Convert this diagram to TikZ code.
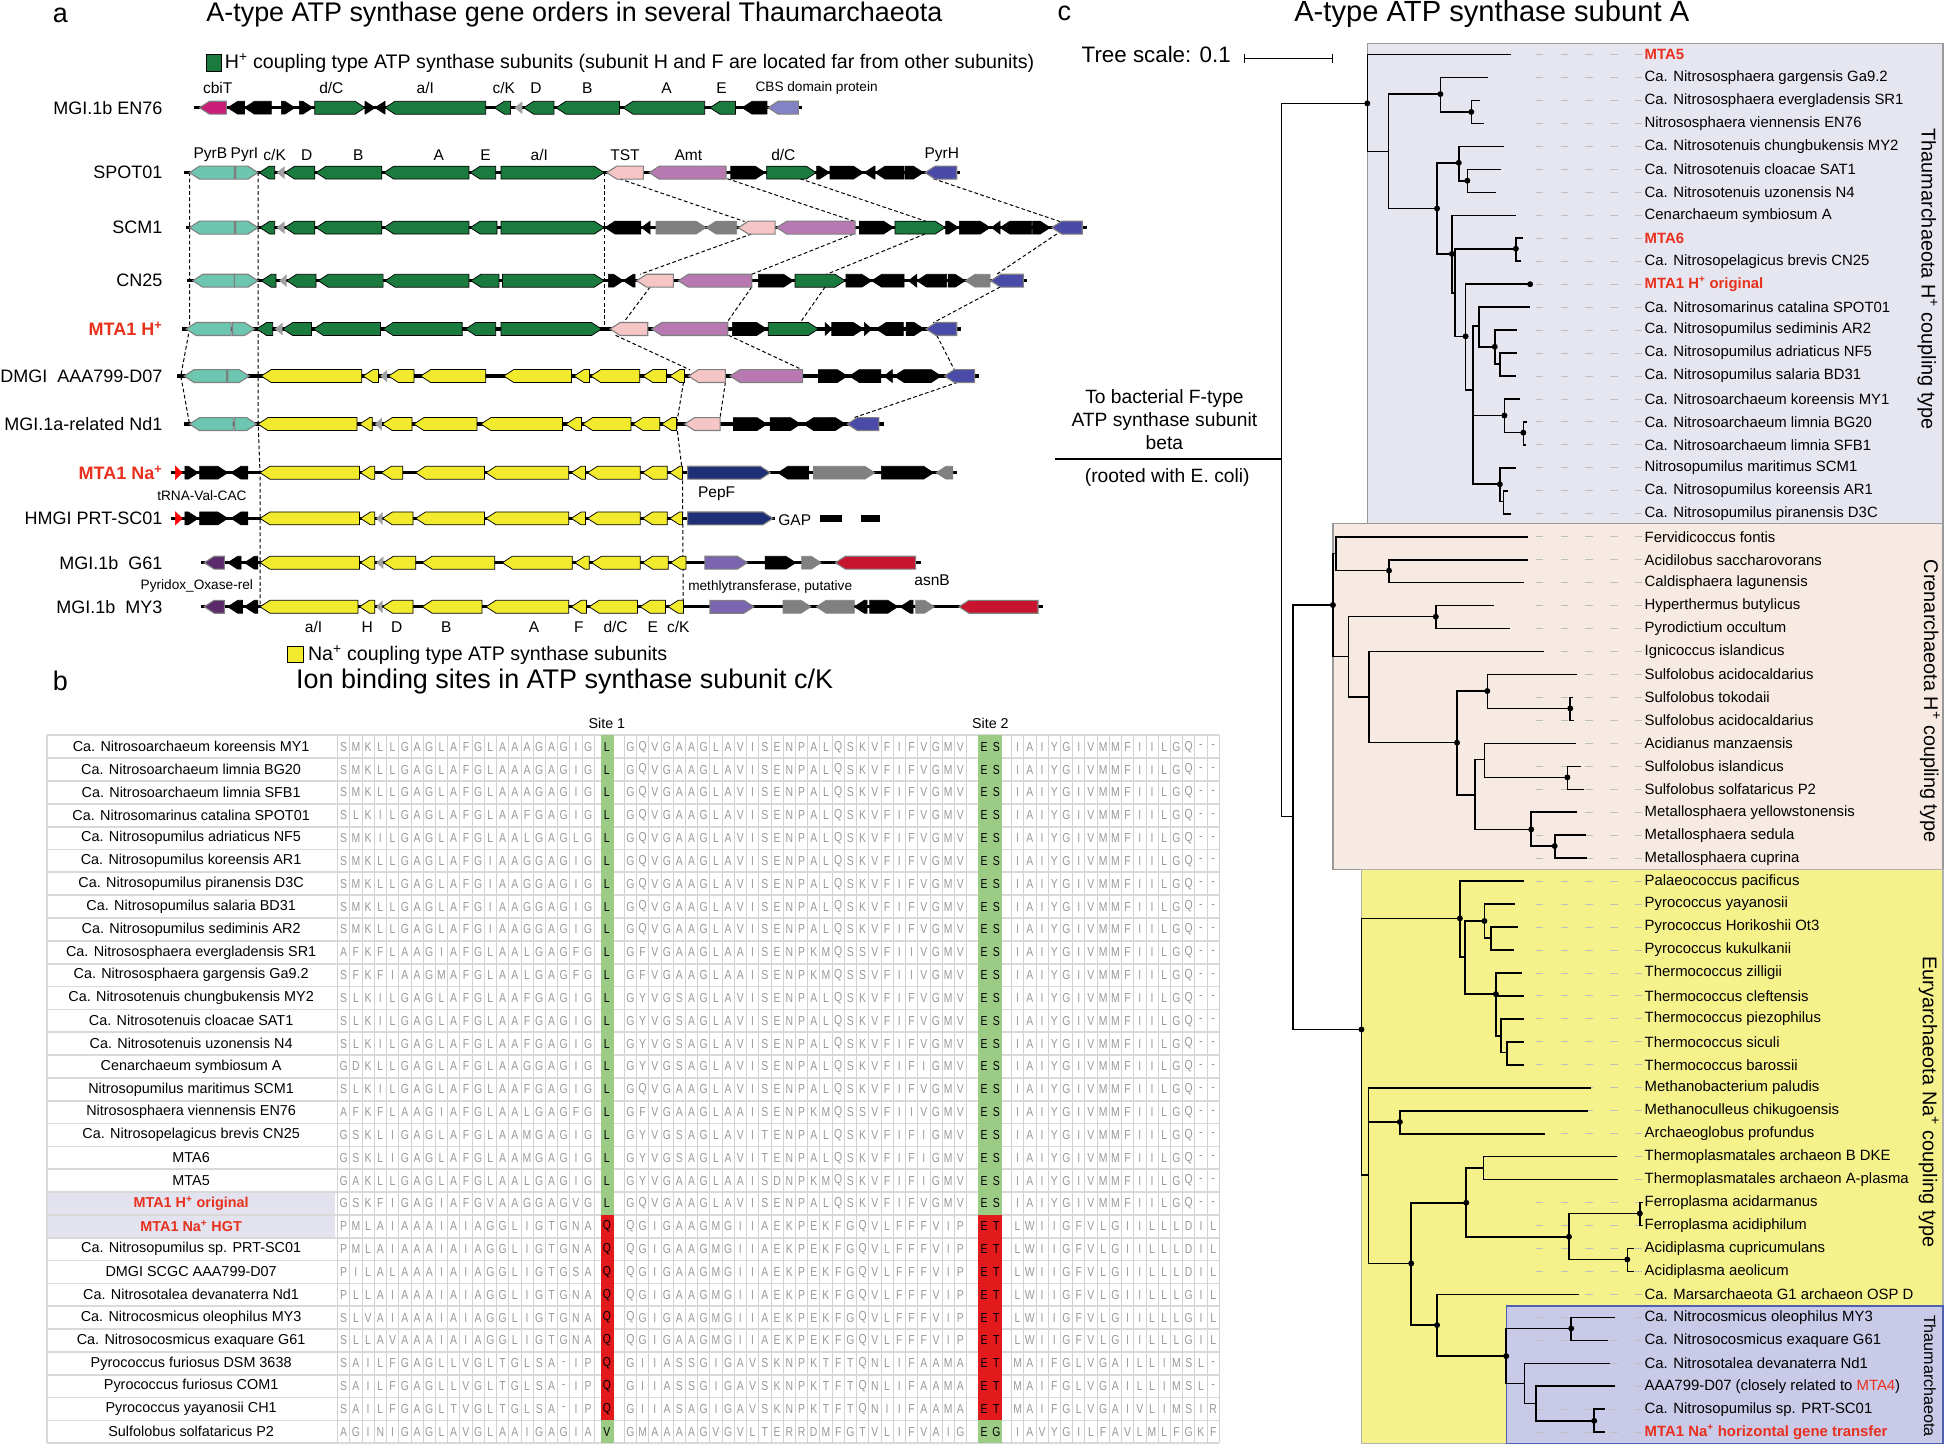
\documentclass[tikz,border=0pt]{standalone}
\usepackage{fontspec}
\setmainfont{Liberation Sans}
\newfontfamily\seqfont{Liberation Sans}[FakeStretch=0.8]
\definecolor{cGreen}{HTML}{1B7A3E}
\definecolor{cYellow}{HTML}{F2EA2C}
\definecolor{cCyan}{HTML}{6CC6B0}
\definecolor{cPink}{HTML}{F6C5C5}
\definecolor{cPurple}{HTML}{B879B3}
\definecolor{cBlue}{HTML}{4A4AA8}
\definecolor{cGray}{HTML}{808080}
\definecolor{cLGray}{HTML}{A0A0A0}
\definecolor{cMag}{HTML}{C81E78}
\definecolor{cLav}{HTML}{8282C4}
\definecolor{cNavy}{HTML}{1E2F78}
\definecolor{cDPur}{HTML}{5A2A6A}
\definecolor{cMeth}{HTML}{7B64B0}
\definecolor{cRed}{HTML}{C8142E}
\definecolor{cTxtRed}{HTML}{E8301C}
\definecolor{siteG}{HTML}{9CCB86}
\definecolor{siteR}{HTML}{E31A1C}
\definecolor{hlBg}{HTML}{E3E3EF}
\definecolor{boxT}{HTML}{E6E6F0}
\definecolor{boxC}{HTML}{F7EAE2}
\definecolor{boxE}{HTML}{F5F28C}
\definecolor{boxN}{HTML}{C9C9E8}
\definecolor{boxNb}{HTML}{5060B0}
\newcommand\fsz[1]{\fontsize{#1}{#1}\selectfont}
\newcommand\Hp{H\textsuperscript{+}}
\newcommand\Nap{Na\textsuperscript{+}}
% gene arrow: x1 x2 dir style ; uses \gy
\newcommand\gene[4]{%
 \pgfmathsetmacro\ghl{min(8,#2-#1)}%
 \if L#3\relax
  \path[#4] (#2,{\gy-5.2}) -- ({#1+\ghl},{\gy-5.2}) -- (#1,\gy) -- ({#1+\ghl},{\gy+5.2}) -- (#2,{\gy+5.2}) -- cycle;
 \else
  \path[#4] (#1,{\gy-5.2}) -- ({#2-\ghl},{\gy-5.2}) -- (#2,\gy) -- ({#2-\ghl},{\gy+5.2}) -- (#1,{\gy+5.2}) -- cycle;
 \fi}
% sequence parsers
\def\seqparse#1{\ifx\relax#1\else\node[seqch] at (\seqx,\seqy) {#1};\pgfmathsetmacro\seqx{\seqx+9.85}\expandafter\seqparse\fi}
\def\siteparse#1{\ifx\relax#1\else\node[sitech] at (\seqx,\seqy) {#1};\pgfmathsetmacro\seqx{\seqx+9.85}\expandafter\siteparse\fi}
\newcommand\seqrow[7]{%
 \pgfmathsetmacro\seqy{601.7+18.4*(#1-1)}%
 \node[namelab] at (154,\seqy) {#2};
 \def\seqx{276.925}\seqparse#3\relax
 \def\seqx{489}\siteparse#4\relax
 \def\seqx{507.925}\seqparse#5\relax
 \def\seqx{792.925}\siteparse#6\relax
 \def\seqx{819.925}\seqparse#7\relax}
\newcommand\tip[2]{%
 \pgfmathsetmacro\ty{44+18.5*#1}%
 \draw[lead] (1237.5,\ty) -- (1323,\ty);
 \node[tiplab] (t#1) at (1325,\ty) {#2};}
\begin{document}
\begin{tikzpicture}[x=1pt,y=-1pt,
 gG/.style={fill=cGreen,draw=black,line width=0.6pt},
 gY/.style={fill=cYellow,draw=black,line width=0.6pt},
 gK/.style={fill=black,draw=black,line width=0.5pt},
 gC/.style={fill=cCyan,draw=cGray,line width=0.9pt},
 gPk/.style={fill=cPink,draw=cGray,line width=0.9pt},
 gPu/.style={fill=cPurple,draw=cGray,line width=0.9pt},
 gBl/.style={fill=cBlue,draw=cGray,line width=0.9pt},
 gR/.style={fill=cGray,draw=cGray,line width=0.5pt},
 gS/.style={fill=cLGray},
 gMag/.style={fill=cMag,draw=cGray,line width=0.9pt},
 gLav/.style={fill=cLav,draw=cGray,line width=0.9pt},
 gNavy/.style={fill=cNavy,draw=cGray,line width=0.9pt},
 gDp/.style={fill=cDPur,draw=cGray,line width=0.9pt},
 gMt/.style={fill=cMeth,draw=cGray,line width=0.9pt},
 gRed/.style={fill=red,draw=red,line width=0.4pt},
 gRed2/.style={fill=cRed,draw=cGray,line width=0.9pt},
 bb/.style={line width=2.6pt,black},
 dcon/.style={densely dashed,line width=0.8pt,black},
 rowlab/.style={anchor=east,font=\fsz{14.5},inner sep=0pt},
 sublab/.style={font=\fsz{12.5},inner sep=0pt},
 smlab/.style={font=\fsz{11},inner sep=0pt},
 seqch/.style={font=\seqfont\fsz{10.5},text=black!40,inner sep=0pt},
 sitech/.style={font=\seqfont\fsz{10.5},text=black,inner sep=0pt},
 namelab/.style={font=\fsz{11.6},inner sep=0pt},
 gridv/.style={draw=black!18,line width=0.6pt},
 gridh/.style={draw=black!15,line width=1.4pt},
 tr/.style={line width=1.3pt,black,line cap=rect},
 lead/.style={draw=black!25,line width=0.8pt,dash pattern=on 6pt off 14pt},
 tiplab/.style={anchor=west,font=\fsz{12},inner sep=0pt},
 sidelab/.style={rotate=-90,font=\fsz{16},inner sep=0pt},
 ttl/.style={font=\fsz{21.7},inner sep=0pt}
]
\useasboundingbox (0,0) rectangle (1568,1166);
\fill[white] (0,0) rectangle (1568,1166);

%================ PANEL A =================
\node[ttl] (pa) at (48.6,12) {a};
\node[ttl] (ta) at (462.8,12) {A-type ATP synthase gene orders in several Thaumarchaeota};
\draw[fill=cGreen,draw=black,line width=0.8pt] (166.2,44.3) rectangle (178.1,57.7);
\node[anchor=west,font=\fsz{15.8},inner sep=0pt] (lega) at (181,51) {\Hp{} coupling type ATP synthase subunits (subunit H and F are located far from other subunits)};

% dashed connectors
\draw[dcon] (152.7,139) -- (152.7,265) -- (145.7,303) -- (152.7,341.7);
\draw[dcon] (208,139) -- (208,265) -- (208,303) -- (208,341.7) -- (209.5,380.9) -- (209.5,489);
\draw[dcon] (486.8,139) -- (486.8,265);
\draw[dcon] (551.6,303) -- (545.1,341.7) -- (549.9,380.9) -- (550.5,489);
\draw[dcon] (499,144) -- (600,178.5);
\draw[dcon] (586,144) -- (689,178.5);
\draw[dcon] (644.7,144) -- (746.7,178.5);
\draw[dcon] (752,144) -- (854,178.5);
\draw[dcon] (605.7,188.5) -- (515.7,221);
\draw[dcon] (687.6,188.5) -- (605.7,221);
\draw[dcon] (745.4,188.5) -- (666.1,221);
\draw[dcon] (851.5,188.5) -- (803.1,221);
\draw[dcon] (523.8,231.3) -- (502.3,260);
\draw[dcon] (605.7,231.3) -- (585.6,260);
\draw[dcon] (664.8,231.3) -- (644.7,260);
\draw[dcon] (805.8,231.3) -- (752,260);
\draw[dcon] (496,270.2) -- (556,298);
\draw[dcon] (587,270.2) -- (646.6,298);
\draw[dcon] (754.8,270.2) -- (769,298);
\draw[dcon] (584.5,308) -- (580.2,336.6);
\draw[dcon] (771.8,308) -- (688,336.6);

% ---- EN76
\def\gy{86.8}
\node[rowlab] (rEN76) at (131,\gy) {MGI.1b EN76};
\draw[bb] (156.5,\gy) -- (646,\gy);
\gene{160.8}{182.4}{L}{gMag}
\gene{183.5}{197}{L}{gK}
\gene{197}{218.6}{L}{gK}
\gene{226.7}{237.5}{R}{gK}
\gene{241.2}{252}{R}{gK}
\gene{253.7}{294.1}{R}{gG}
\gene{294.1}{302.2}{R}{gK}
\gene{302.2}{310.3}{L}{gK}
\gene{310.3}{391.3}{L}{gG}
\gene{398.3}{411.3}{L}{gG}
\gene{414.5}{421}{L}{gS}
\gene{422}{446.3}{L}{gG}
\gene{448}{499.2}{L}{gG}
\gene{502}{567.8}{L}{gG}
\gene{572}{592.6}{L}{gG}
\gene{598}{618}{L}{gK}
\gene{619}{643.3}{L}{gLav}
\node[sublab] at (175.4,71.2) {cbiT};
\node[sublab] at (267,71.2) {d/C};
\node[sublab] at (342.7,71.2) {a/I};
\node[sublab] at (405.9,71.2) {c/K};
\node[sublab] at (431.8,71.2) {D};
\node[sublab] at (473.3,71.2) {B};
\node[sublab] at (537,71.2) {A};
\node[sublab] at (581.3,71.2) {E};
\node[smlab] at (658,71.2) {CBS domain protein};

% ---- SPOT01
\def\gy{139.1}
\node[rowlab] (rSPOT) at (131,\gy) {SPOT01};
\draw[bb] (148.4,\gy) -- (773.6,\gy);
\gene{152.7}{188.9}{L}{gC}
\gene{190}{207.8}{R}{gC}
\gene{208.9}{221.3}{L}{gG}
\gene{222.9}{229.4}{L}{gS}
\gene{229.4}{253.7}{L}{gG}
\gene{254.7}{307.6}{L}{gG}
\gene{309.3}{377.8}{L}{gG}
\gene{378.9}{399.4}{L}{gG}
\gene{403.7}{486.8}{R}{gG}
\gene{488.9}{518.4}{L}{gPk}
\gene{523.2}{585}{L}{gPu}
\gene{588.8}{616.5}{R}{gK}
\gene{617.8}{657.6}{R}{gG}
\gene{658}{668.3}{R}{gK}
\gene{668.8}{695.7}{R}{gK}
\gene{696.5}{705.1}{L}{gK}
\gene{705.1}{728.5}{L}{gK}
\gene{729.3}{744}{R}{gK}
\gene{745.4}{770.9}{L}{gBl}
\node[sublab] at (169.5,124.9) {PyrB};
\node[sublab] at (197,124.9) {PyrI};
\node[sublab] at (221.3,124.9) {c/K};
\node[sublab] at (247.2,124.9) {D};
\node[sublab] at (288.7,124.9) {B};
\node[sublab] at (353.5,124.9) {A};
\node[sublab] at (391.3,124.9) {E};
\node[sublab] at (434.5,124.9) {a/I};
\node[sublab] at (503.6,124.9) {TST};
\node[sublab] at (554.7,124.9) {Amt};
\node[sublab] at (631.2,124.9) {d/C};
\node[sublab] at (758.8,124.9) {PyrH};

% ---- SCM1
\def\gy{183.4}
\node[rowlab] (rSCM1) at (131,\gy) {SCM1};
\draw[bb] (150,\gy) -- (876,\gy);
\gene{152.7}{188.9}{L}{gC}
\gene{190}{207.8}{R}{gC}
\gene{209.4}{221.3}{L}{gG}
\gene{222.9}{229.4}{L}{gS}
\gene{229.4}{253.7}{L}{gG}
\gene{254.7}{307.6}{L}{gG}
\gene{309.3}{377.8}{L}{gG}
\gene{378.9}{400.5}{L}{gG}
\gene{403.7}{486.8}{R}{gG}
\gene{487.5}{516.3}{L}{gK}
\gene{517}{523.8}{L}{gK}
\gene{528.6}{568.9}{R}{gR}
\gene{568.9}{593.6}{L}{gR}
\gene{595}{624.5}{L}{gPk}
\gene{625.9}{689}{L}{gPu}
\gene{692.5}{719.9}{R}{gK}
\gene{721.2}{761.5}{R}{gG}
\gene{762}{772.3}{R}{gK}
\gene{773}{797.8}{R}{gK}
\gene{799}{805.8}{L}{gK}
\gene{805.8}{831.3}{L}{gK}
\gene{832.1}{846.1}{R}{gK}
\gene{847.5}{872}{L}{gBl}

% ---- CN25
\def\gy{226.2}
\node[rowlab] (rCN25) at (131,\gy) {CN25};
\draw[bb] (151,\gy) -- (827.3,\gy);
\gene{155.4}{188.9}{L}{gC}
\gene{188.9}{207.8}{R}{gC}
\gene{210.5}{222.4}{L}{gG}
\gene{225}{231}{L}{gS}
\gene{231}{254.7}{L}{gG}
\gene{256.4}{308.7}{L}{gG}
\gene{310.3}{377.8}{L}{gG}
\gene{379.4}{402}{L}{gG}
\gene{404.8}{486.8}{R}{gG}
\gene{490.2}{502.3}{R}{gK}
\gene{502.3}{511.7}{L}{gK}
\gene{513}{542.6}{L}{gPk}
\gene{546.6}{605.7}{L}{gPu}
\gene{611.1}{639.3}{R}{gK}
\gene{640.6}{680.9}{R}{gG}
\gene{681.7}{702.4}{R}{gK}
\gene{702.4}{728.5}{L}{gK}
\gene{732}{738.7}{L}{gK}
\gene{738.7}{762.8}{L}{gK}
\gene{764.2}{777.6}{R}{gK}
\gene{777.6}{797.8}{L}{gR}
\gene{798.3}{824.6}{L}{gBl}

% ---- MTA1 H+
\def\gy{265.1}
\node[rowlab,text=cTxtRed,font=\fsz{14.5}\bfseries] (rMTAH) at (131,\gy) {MTA1 \Hp};
\draw[bb] (147,\gy) -- (774.1,\gy);
\gene{150}{186.2}{L}{gC}
\gene{187.3}{205.1}{R}{gC}
\gene{206.7}{219.7}{L}{gG}
\gene{221.3}{227.8}{L}{gS}
\gene{227.8}{251}{L}{gG}
\gene{252.6}{306.6}{L}{gG}
\gene{308.7}{372.4}{L}{gG}
\gene{375.1}{399.4}{L}{gG}
\gene{403.7}{484.7}{R}{gG}
\gene{491.6}{521.9}{L}{gPk}
\gene{525.1}{586.4}{L}{gPu}
\gene{590.1}{617.8}{R}{gK}
\gene{619.1}{659.4}{R}{gG}
\gene{664.8}{670.2}{R}{gK}
\gene{670.2}{695.7}{R}{gK}
\gene{696.5}{702.4}{R}{gK}
\gene{705.9}{727.9}{L}{gK}
\gene{730.1}{744.6}{R}{gK}
\gene{746.2}{770.9}{L}{gBl}

% ---- DMGI
\def\gy{303}
\node[rowlab] (rDMGI) at (131,\gy) {DMGI\ \ AAA799-D07};
\draw[bb] (143,\gy) -- (789,\gy);
\gene{148.4}{182.4}{L}{gC}
\gene{183.5}{200.8}{R}{gC}
\gene{210.5}{291.4}{L}{gY}
\gene{292.5}{304.9}{L}{gY}
\gene{306.5}{312}{L}{gS}
\gene{313}{333.5}{L}{gY}
\gene{339}{391.3}{L}{gY}
\gene{405.9}{460.4}{L}{gY}
\gene{462.5}{475}{L}{gY}
\gene{476}{515.4}{L}{gY}
\gene{518}{537}{L}{gY}
\gene{539.7}{551.6}{L}{gY}
\gene{554.8}{584.5}{L}{gPk}
\gene{588.3}{646.6}{L}{gPu}
\gene{659.5}{682.7}{R}{gK}
\gene{684.4}{709.7}{L}{gK}
\gene{712.4}{719}{L}{gK}
\gene{720.5}{744.8}{L}{gK}
\gene{744.8}{758.3}{R}{gK}
\gene{761}{785.3}{L}{gBl}

% ---- Nd1
\def\gy{341.7}
\node[rowlab] (rNd1) at (131,\gy) {MGI.1a-related Nd1};
\draw[bb] (148.4,\gy) -- (712.4,\gy);
\gene{152.7}{187.8}{L}{gC}
\gene{188.9}{206.7}{R}{gC}
\gene{207.8}{287.7}{L}{gY}
\gene{289.8}{300}{L}{gY}
\gene{302.2}{307.6}{L}{gS}
\gene{308}{332}{L}{gY}
\gene{333.5}{384.3}{L}{gY}
\gene{387.5}{453.3}{L}{gY}
\gene{456}{468.5}{L}{gY}
\gene{469.5}{508.4}{L}{gY}
\gene{510}{531.6}{L}{gY}
\gene{533.2}{545.1}{L}{gY}
\gene{551.6}{580.2}{L}{gPk}
\gene{591}{618}{R}{gK}
\gene{620.6}{645}{R}{gK}
\gene{647.6}{669.2}{L}{gK}
\gene{669.2}{681.1}{R}{gK}
\gene{682.7}{708.1}{L}{gBl}

% ---- MTA1 Na+
\def\gy{380.9}
\node[rowlab,text=cTxtRed,font=\fsz{14.5}\bfseries] (rMTAN) at (131,\gy) {MTA1 \Nap};
\draw[bb] (137.6,\gy) -- (771,\gy);
\gene{141.4}{146.8}{R}{gRed}
\gene{149}{159.7}{R}{gK}
\gene{160.8}{183.5}{R}{gK}
\gene{186.2}{199.7}{L}{gK}
\gene{209.5}{289.7}{L}{gY}
\gene{290.5}{302}{L}{gY}
\gene{307.3}{324.6}{L}{gY}
\gene{334.9}{390.4}{L}{gY}
\gene{391.6}{458.2}{L}{gY}
\gene{460.3}{471.8}{L}{gY}
\gene{473.4}{515.8}{L}{gY}
\gene{517.8}{537.6}{L}{gY}
\gene{539.6}{549.9}{L}{gY}
\gene{554}{620.6}{R}{gNavy}
\gene{626.8}{651.4}{L}{gK}
\gene{655.5}{704.9}{R}{gR}
\gene{710.2}{752.2}{R}{gK}
\gene{754.2}{767.8}{L}{gR}
\node[smlab] at (162.7,399.7) {tRNA-Val-CAC};
\node[sublab] at (577.4,398) {PepF};

% ---- PRT-SC01
\def\gy{417.7}
\node[rowlab] (rPRT) at (131,\gy) {HMGI PRT-SC01};
\draw[bb] (137.6,\gy) -- (624.7,\gy);
\gene{141.4}{146.8}{R}{gRed}
\gene{149}{159.7}{R}{gK}
\gene{160.8}{183.5}{R}{gK}
\gene{186.2}{199.7}{L}{gK}
\gene{209.5}{289.7}{L}{gY}
\gene{290.5}{302}{L}{gY}
\gene{303.2}{308.2}{L}{gS}
\gene{308.2}{332.8}{L}{gY}
\gene{334.9}{390.4}{L}{gY}
\gene{391.6}{458.2}{L}{gY}
\gene{460.3}{471.8}{L}{gY}
\gene{473.4}{515.8}{L}{gY}
\gene{517.8}{537.6}{L}{gY}
\gene{539.6}{549.9}{L}{gY}
\gene{554}{622.7}{R}{gNavy}
\node[sublab,anchor=west] at (627,419) {GAP};
\fill[black] (660.9,415.2) rectangle (678.2,420.2);
\fill[black] (693.8,415.2) rectangle (709,420.2);

% ---- G61
\def\gy{453.4}
\node[rowlab] (rG61) at (131,\gy) {MGI.1b\ \ G61};
\draw[bb] (162,\gy) -- (741.9,\gy);
\gene{164.6}{180.8}{L}{gDp}
\gene{183.5}{194.3}{L}{gK}
\gene{197}{207.8}{L}{gK}
\gene{209.5}{289.7}{L}{gY}
\gene{290.5}{302}{L}{gY}
\gene{303.2}{309}{L}{gS}
\gene{309}{334.9}{L}{gY}
\gene{340.2}{398.6}{L}{gY}
\gene{404.8}{461.1}{L}{gY}
\gene{463.2}{474.7}{L}{gY}
\gene{476.7}{515.8}{L}{gY}
\gene{517.8}{538.4}{L}{gY}
\gene{540.4}{552.8}{L}{gY}
\gene{568}{602.1}{R}{gMt}
\gene{616.5}{641.2}{R}{gK}
\gene{646}{661.7}{R}{gR}
\gene{673.2}{737.8}{L}{gRed2}
\node[smlab] at (158.6,472) {Pyridox\_Oxase-rel};
\node[smlab] at (620.6,472.8) {methlytransferase, putative};
\node[sublab] at (751,467.4) {asnB};

% ---- MY3
\def\gy{488.9}
\node[rowlab] (rMY3) at (131,\gy) {MGI.1b\ \ MY3};
\draw[bb] (162,\gy) -- (840.5,\gy);
\gene{164.6}{180.8}{L}{gDp}
\gene{183.5}{195.4}{L}{gK}
\gene{197}{207.8}{L}{gK}
\gene{209.5}{288.4}{L}{gY}
\gene{289.7}{302}{L}{gY}
\gene{303.2}{308.2}{L}{gS}
\gene{308.2}{332.8}{L}{gY}
\gene{340.2}{388.3}{L}{gY}
\gene{391.6}{458.2}{L}{gY}
\gene{460.3}{472.6}{L}{gY}
\gene{474.7}{513.7}{L}{gY}
\gene{515.8}{536.3}{L}{gY}
\gene{538.4}{550.7}{L}{gY}
\gene{572.1}{607.4}{R}{gMt}
\gene{630.9}{653.5}{R}{gR}
\gene{657.6}{688.4}{L}{gR}
\gene{688.4}{698.7}{L}{gK}
\gene{700.8}{723.4}{R}{gK}
\gene{725.4}{735.7}{L}{gK}
\gene{737.8}{753}{R}{gR}
\gene{772.7}{836.4}{L}{gRed2}
\node[sublab] at (252.7,505.5) {a/I};
\node[sublab] at (295.8,505.5) {H};
\node[sublab] at (319.7,505.5) {D};
\node[sublab] at (359.6,505.5) {B};
\node[sublab] at (430.3,505.5) {A};
\node[sublab] at (466.4,505.5) {F};
\node[sublab] at (496,505.5) {d/C};
\node[sublab] at (526,505.5) {E};
\node[sublab] at (546.6,505.5) {c/K};
\draw[fill=cYellow,draw=black,line width=0.8pt] (232,521) rectangle (244.4,534);
\node[anchor=west,font=\fsz{15.8},inner sep=0pt] (legb) at (248,527.8) {\Nap{} coupling type ATP synthase subunits};

%================ PANEL B =================
\node[ttl] (pb) at (48.6,549) {b};
\node[ttl] (tb) at (455,549) {Ion binding sites in ATP synthase subunit c/K};
\node[font=\fsz{11.5},inner sep=0pt] at (489,582.6) {Site 1};
\node[font=\fsz{11.5},inner sep=0pt] at (798,582.6) {Site 2};
\fill[hlBg] (37.8,960.5) rectangle (269.9,997.3);
\foreach \i in {0,...,21} \draw[gridv] ({272+9.85*\i},592.5) -- ({272+9.85*\i},1163);
\foreach \i in {0,...,28} \draw[gridv] ({503+9.85*\i},592.5) -- ({503+9.85*\i},1163);
\foreach \i in {0,...,17} \draw[gridv] ({815+9.85*\i},592.5) -- ({815+9.85*\i},1163);
\foreach \r in {0,...,31} \draw[gridh] (37.8,{592.5+18.4*\r}) -- (982.5,{592.5+18.4*\r});
\draw[gridh] (37.8,592.5) -- (37.8,1163);
\foreach \r in {1,...,21,31} {
  \fill[siteG] (484,{592.5+18.4*(\r-1)}) rectangle (494.5,{592.5+18.4*\r});
  \fill[siteG] (788,{592.5+18.4*(\r-1)}) rectangle (807.7,{592.5+18.4*\r});}
\foreach \r in {22,...,30} {
  \fill[siteR] (484,{592.5+18.4*(\r-1)}) rectangle (494.5,{592.5+18.4*\r});
  \fill[siteR] (788,{592.5+18.4*(\r-1)}) rectangle (807.7,{592.5+18.4*\r});}

\seqrow{1}{Ca. Nitrosoarchaeum koreensis MY1}{SMKLLGAGLAFGLAAAGAGIG}{L}{GQVGAAGLAVISENPALQSKVFIFVGMV}{ES}{IAIYGIVMMFIILGQ--}
\seqrow{2}{Ca. Nitrosoarchaeum limnia BG20}{SMKLLGAGLAFGLAAAGAGIG}{L}{GQVGAAGLAVISENPALQSKVFIFVGMV}{ES}{IAIYGIVMMFIILGQ--}
\seqrow{3}{Ca. Nitrosoarchaeum limnia SFB1}{SMKLLGAGLAFGLAAAGAGIG}{L}{GQVGAAGLAVISENPALQSKVFIFVGMV}{ES}{IAIYGIVMMFIILGQ--}
\seqrow{4}{Ca. Nitrosomarinus catalina SPOT01}{SLKILGAGLAFGLAAFGAGIG}{L}{GQVGAAGLAVISENPALQSKVFIFVGMV}{ES}{IAIYGIVMMFIILGQ--}
\seqrow{5}{Ca. Nitrosopumilus adriaticus NF5}{SMKILGAGLAFGLAALGAGLG}{L}{GQVGAAGLAVISENPALQSKVFIFVGMV}{ES}{IAIYGIVMMFIILGQ--}
\seqrow{6}{Ca. Nitrosopumilus koreensis AR1}{SMKLLGAGLAFGIAAGGAGIG}{L}{GQVGAAGLAVISENPALQSKVFIFVGMV}{ES}{IAIYGIVMMFIILGQ--}
\seqrow{7}{Ca. Nitrosopumilus piranensis D3C}{SMKLLGAGLAFGIAAGGAGIG}{L}{GQVGAAGLAVISENPALQSKVFIFVGMV}{ES}{IAIYGIVMMFIILGQ--}
\seqrow{8}{Ca. Nitrosopumilus salaria BD31}{SMKLLGAGLAFGIAAGGAGIG}{L}{GQVGAAGLAVISENPALQSKVFIFVGMV}{ES}{IAIYGIVMMFIILGQ--}
\seqrow{9}{Ca. Nitrosopumilus sediminis AR2}{SMKLLGAGLAFGIAAGGAGIG}{L}{GQVGAAGLAVISENPALQSKVFIFVGMV}{ES}{IAIYGIVMMFIILGQ--}
\seqrow{10}{Ca. Nitrososphaera evergladensis SR1}{AFKFLAAGIAFGLAALGAGFG}{L}{GFVGAAGLAAISENPKMQSSVFIIVGMV}{ES}{IAIYGIVMMFIILGQ--}
\seqrow{11}{Ca. Nitrososphaera gargensis Ga9.2}{SFKFIAAGMAFGLAALGAGFG}{L}{GFVGAAGLAAISENPKMQSSVFIIVGMV}{ES}{IAIYGIVMMFIILGQ--}
\seqrow{12}{Ca. Nitrosotenuis chungbukensis MY2}{SLKILGAGLAFGLAAFGAGIG}{L}{GYVGSAGLAVISENPALQSKVFIFVGMV}{ES}{IAIYGIVMMFIILGQ--}
\seqrow{13}{Ca. Nitrosotenuis cloacae SAT1}{SLKILGAGLAFGLAAFGAGIG}{L}{GYVGSAGLAVISENPALQSKVFIFVGMV}{ES}{IAIYGIVMMFIILGQ--}
\seqrow{14}{Ca. Nitrosotenuis uzonensis N4}{SLKILGAGLAFGLAAFGAGIG}{L}{GYVGSAGLAVISENPALQSKVFIFVGMV}{ES}{IAIYGIVMMFIILGQ--}
\seqrow{15}{Cenarchaeum symbiosum A}{GDKLLGAGLAFGLAAGGAGIG}{L}{GYVGSAGLAVISENPALQSKVFIFIGMV}{ES}{IAIYGIVMMFIILGQ--}
\seqrow{16}{Nitrosopumilus maritimus SCM1}{SLKILGAGLAFGLAAFGAGIG}{L}{GQVGAAGLAVISENPALQSKVFIFVGMV}{ES}{IAIYGIVMMFIILGQ--}
\seqrow{17}{Nitrososphaera viennensis EN76}{AFKFLAAGIAFGLAALGAGFG}{L}{GFVGAAGLAAISENPKMQSSVFIIVGMV}{ES}{IAIYGIVMMFIILGQ--}
\seqrow{18}{Ca. Nitrosopelagicus brevis CN25}{GSKLIGAGLAFGLAAMGAGIG}{L}{GYVGSAGLAVITENPALQSKVFIFIGMV}{ES}{IAIYGIVMMFIILGQ--}
\seqrow{19}{MTA6}{GSKLIGAGLAFGLAAMGAGIG}{L}{GYVGSAGLAVITENPALQSKVFIFIGMV}{ES}{IAIYGIVMMFIILGQ--}
\seqrow{20}{MTA5}{GAKLLGAGLAFGLAALGAGIG}{L}{GYVGAAGLAAISDNPKMQSKVFIFIGMV}{ES}{IAIYGIVMMFIILGQ--}
\seqrow{21}{\textcolor{cTxtRed}{\bfseries MTA1 \Hp{} original}}{GSKFIGAGIAFGVAAGGAGVG}{L}{GQVGAAGLAVISENPALQSKVFIFVGMV}{ES}{IAIYGIVMMFIILGQ--}
\seqrow{22}{\textcolor{cTxtRed}{\bfseries MTA1 \Nap{} HGT}}{PMLAIAAAIAIAGGLIGTGNA}{Q}{QGIGAAGMGIIAEKPEKFGQVLFFFVIP}{ET}{LWIIGFVLGIILLLDIL}
\seqrow{23}{Ca. Nitrosopumilus sp. PRT-SC01}{PMLAIAAAIAIAGGLIGTGNA}{Q}{QGIGAAGMGIIAEKPEKFGQVLFFFVIP}{ET}{LWIIGFVLGIILLLDIL}
\seqrow{24}{DMGI SCGC AAA799-D07}{PILALAAAIAIAGGLIGTGSA}{Q}{QGIGAAGMGIIAEKPEKFGQVLFFFVIP}{ET}{LWIIGFVLGIILLLDIL}
\seqrow{25}{Ca. Nitrosotalea devanaterra Nd1}{PLLAIAAAIAIAGGLIGTGNA}{Q}{QGIGAAGMGIIAEKPEKFGQVLFFFVIP}{ET}{LWIIGFVLGIILLLGIL}
\seqrow{26}{Ca. Nitrocosmicus oleophilus MY3}{SLVAIAAAIAIAGGLIGTGNA}{Q}{QGIGAAGMGIIAEKPEKFGQVLFFFVIP}{ET}{LWIIGFVLGIILLLGIL}
\seqrow{27}{Ca. Nitrosocosmicus exaquare G61}{SLLAVAAAIAIAGGLIGTGNA}{Q}{QGIGAAGMGIIAEKPEKFGQVLFFFVIP}{ET}{LWIIGFVLGIILLLGIL}
\seqrow{28}{Pyrococcus furiosus DSM 3638}{SAILFGAGLLVGLTGLSA-IP}{Q}{GIIASSGIGAVSKNPKTFTQNLIFAAMA}{ET}{MAIFGLVGAILLIMSL-}
\seqrow{29}{Pyrococcus furiosus COM1}{SAILFGAGLLVGLTGLSA-IP}{Q}{GIIASSGIGAVSKNPKTFTQNLIFAAMA}{ET}{MAIFGLVGAILLIMSL-}
\seqrow{30}{Pyrococcus yayanosii CH1}{SAILFGAGLTVGLTGLSA-IP}{Q}{GIIASAGIGAVSKNPKTFTQNIIFAAMA}{ET}{MAIFGLVGAIVLIMSIR}
\seqrow{31}{Sulfolobus solfataricus P2}{AGINIGAGLAVGLAAIGAGIA}{V}{GMAAAAGVGVLTERRDMFGTVLIFVAIG}{EG}{IAVYGILFAVLMLFGKF}

%================ PANEL C =================
\node[ttl] (pc) at (857.6,11) {c};
\node[ttl,font=\fsz{23.5}] (tc) at (1202,11) {A-type ATP synthase subunt A};
\draw[fill=boxT,draw=black!40,line width=1pt] (1101.7,34.8) rectangle (1565.5,422);
\draw[fill=boxC,draw=black!40,line width=1pt] (1074,422) rectangle (1565.5,700.5);
\draw[fill=boxE,draw=black!30,line width=1pt] (1097,700.5) rectangle (1565.5,1163);
\draw[fill=boxN,draw=boxNb,line width=1pt] (1213.6,1052.4) rectangle (1565.5,1163);

\node[anchor=west,font=\fsz{18},inner sep=0pt] (tsc) at (871.4,44.3) {Tree scale: 0.1};
\draw[line width=0.8pt] (1002.7,47) -- (1074,47) (1002.7,43.5) -- (1002.7,50.5) (1074,43.5) -- (1074,50.5);
\node[font=\fsz{15.5},align=center,inner sep=0pt] (rt) at (938.2,338) {To bacterial F-type\\[3pt] ATP synthase subunit\\[3pt] beta};
\node[font=\fsz{15.5},inner sep=0pt] (rt2) at (940.5,384.5) {(rooted with E. coli)};

\node[sidelab] at (1553,225) {Thaumarchaeota \Hp{} coupling type};
\node[sidelab] at (1555,565) {Crenarchaeota \Hp{} coupling type};
\node[sidelab] at (1554,888) {Euryarchaeota \Nap{} coupling type};
\node[sidelab,font=\fsz{13}] at (1555,1108.7) {Thaumarchaeota};

% tips
\tip{0}{\textcolor{cTxtRed}{\bfseries MTA5}}
\tip{1}{Ca. Nitrososphaera gargensis Ga9.2}
\tip{2}{Ca. Nitrososphaera evergladensis SR1}
\tip{3}{Nitrososphaera viennensis EN76}
\tip{4}{Ca. Nitrosotenuis chungbukensis MY2}
\tip{5}{Ca. Nitrosotenuis cloacae SAT1}
\tip{6}{Ca. Nitrosotenuis uzonensis N4}
\tip{7}{Cenarchaeum symbiosum A}
\tip{8}{\textcolor{cTxtRed}{\bfseries MTA6}}
\tip{9}{Ca. Nitrosopelagicus brevis CN25}
\tip{10}{\textcolor{cTxtRed}{\bfseries MTA1 \Hp{} original}}
\tip{11}{Ca. Nitrosomarinus catalina SPOT01}
\tip{12}{Ca. Nitrosopumilus sediminis AR2}
\tip{13}{Ca. Nitrosopumilus adriaticus NF5}
\tip{14}{Ca. Nitrosopumilus salaria BD31}
\tip{15}{Ca. Nitrosoarchaeum koreensis MY1}
\tip{16}{Ca. Nitrosoarchaeum limnia BG20}
\tip{17}{Ca. Nitrosoarchaeum limnia SFB1}
\tip{18}{Nitrosopumilus maritimus SCM1}
\tip{19}{Ca. Nitrosopumilus koreensis AR1}
\tip{20}{Ca. Nitrosopumilus piranensis D3C}
\tip{21}{Fervidicoccus fontis}
\tip{22}{Acidilobus saccharovorans}
\tip{23}{Caldisphaera lagunensis}
\tip{24}{Hyperthermus butylicus}
\tip{25}{Pyrodictium occultum}
\tip{26}{Ignicoccus islandicus}
\tip{27}{Sulfolobus acidocaldarius}
\tip{28}{Sulfolobus tokodaii}
\tip{29}{Sulfolobus acidocaldarius}
\tip{30}{Acidianus manzaensis}
\tip{31}{Sulfolobus islandicus}
\tip{32}{Sulfolobus solfataricus P2}
\tip{33}{Metallosphaera yellowstonensis}
\tip{34}{Metallosphaera sedula}
\tip{35}{Metallosphaera cuprina}
\tip{36}{Palaeococcus pacificus}
\tip{37}{Pyrococcus yayanosii}
\tip{38}{Pyrococcus Horikoshii Ot3}
\tip{39}{Pyrococcus kukulkanii}
\tip{40}{Thermococcus zilligii}
\tip{41}{Thermococcus cleftensis}
\tip{42}{Thermococcus piezophilus}
\tip{43}{Thermococcus siculi}
\tip{44}{Thermococcus barossii}
\tip{45}{Methanobacterium paludis}
\tip{46}{Methanoculleus chikugoensis}
\tip{47}{Archaeoglobus profundus}
\tip{48}{Thermoplasmatales archaeon B DKE}
\tip{49}{Thermoplasmatales archaeon A-plasma}
\tip{50}{Ferroplasma acidarmanus}
\tip{51}{Ferroplasma acidiphilum}
\tip{52}{Acidiplasma cupricumulans}
\tip{53}{Acidiplasma aeolicum}
\tip{54}{Ca. Marsarchaeota G1 archaeon OSP D}
\tip{55}{Ca. Nitrocosmicus oleophilus MY3}
\tip{56}{Ca. Nitrosocosmicus exaquare G61}
\tip{57}{Ca. Nitrosotalea devanaterra Nd1}
\tip{58}{AAA799-D07 (closely related to \textcolor{cTxtRed}{MTA4})}
\tip{59}{Ca. Nitrosopumilus sp. PRT-SC01}
\tip{60}{\textcolor{cTxtRed}{\bfseries MTA1 \Nap{} horizontal gene transfer}}

% root
\draw[tr] (850.7,369.8) -- (1032.6,369.8);
\draw[tr] (1101.7,83.3) -- (1032.6,83.3) -- (1032.6,658) -- (1041.8,658);
\draw[tr] (1074,487.5) -- (1041.8,487.5) -- (1041.8,829.5) -- (1097,829.5);
% Thaum H+
\draw[tr] (1216.8,44) -- (1101.7,44) -- (1101.7,122) -- (1118.7,122);
\draw[tr] (1160.6,75.8) -- (1118.7,75.8) -- (1118.7,168) -- (1157.9,168);
\draw[tr] (1198.4,62.5) -- (1160.6,62.5) -- (1160.6,90.2) -- (1185.5,90.2);
\draw[tr] (1191.5,81) -- (1185.5,81) -- (1185.5,99.5) -- (1194.7,99.5);
\draw[tr] (1175.4,131.2) -- (1157.9,131.2) -- (1157.9,204.6) -- (1169.8,204.6);
\draw[tr] (1211.3,118) -- (1175.4,118) -- (1175.4,145.6) -- (1182.3,145.6);
\draw[tr] (1209,136.5) -- (1182.3,136.5) -- (1182.3,155) -- (1204.4,155);
\draw[tr] (1220.5,173.5) -- (1169.8,173.5) -- (1169.8,235.9) -- (1172.6,235.9);
\draw[tr] (1221.4,200.4) -- (1172.6,200.4) -- (1172.6,271) -- (1180.9,271);
\draw[tr] (1226.9,192) -- (1221.4,192) -- (1221.4,210.5) -- (1224.6,210.5);
\draw[tr] (1232.9,229) -- (1180.9,229) -- (1180.9,314) -- (1186.9,314);
\draw[tr] (1191.5,262.8) -- (1186.9,262.8) -- (1186.9,390.2) -- (1208.5,390.2);
\draw[tr] (1186.9,334.8) -- (1212.2,334.8);
\draw[tr] (1232,247.5) -- (1191.5,247.5) -- (1191.5,279.4) -- (1204.4,279.4);
\draw[tr] (1221.4,266) -- (1204.4,266) -- (1204.4,293.2) -- (1208.5,293.2);
\draw[tr] (1221.4,284.5) -- (1208.5,284.5) -- (1208.5,303) -- (1220.5,303);
\draw[tr] (1223.7,321.5) -- (1212.2,321.5) -- (1212.2,348.6) -- (1227.4,348.6);
\draw[tr] (1229.7,340) -- (1227.4,340) -- (1227.4,358.5) -- (1229.2,358.5);
\draw[tr] (1220.5,377) -- (1208.5,377) -- (1208.5,404) -- (1211.3,404);
\draw[tr] (1214.5,395.5) -- (1211.3,395.5) -- (1211.3,414) -- (1216.8,414);
% Cren
\draw[tr] (1076.4,445.9) -- (1074,445.9) -- (1074,529.1) -- (1086.5,529.1);
\draw[tr] (1230.6,432.5) -- (1076.4,432.5) -- (1076.4,459.8) -- (1119.2,459.8);
\draw[tr] (1230.6,451) -- (1119.2,451) -- (1119.2,469.5) -- (1227.4,469.5);
\draw[tr] (1156.9,496.9) -- (1086.5,496.9) -- (1086.5,561.4) -- (1103.1,561.4);
\draw[tr] (1203,488) -- (1156.9,488) -- (1156.9,506.5) -- (1215.9,506.5);
\draw[tr] (1243.5,525) -- (1103.1,525) -- (1103.1,598.4) -- (1174,598.4);
\draw[tr] (1198.4,556.8) -- (1174,556.8) -- (1174,640.6) -- (1188.3,640.6);
\draw[tr] (1269.8,543.5) -- (1198.4,543.5) -- (1198.4,570.8) -- (1265.2,570.8);
\draw[tr] (1266.5,562) -- (1265.2,562) -- (1265.2,580.5) -- (1267.5,580.5);
\draw[tr] (1196.1,611.9) -- (1188.3,611.9) -- (1188.3,668.3) -- (1233.8,668.3);
\draw[tr] (1268.8,599) -- (1196.1,599) -- (1196.1,626.4) -- (1262.9,626.4);
\draw[tr] (1273.4,617.5) -- (1262.9,617.5) -- (1262.9,636) -- (1275.3,636);
\draw[tr] (1269.8,654.5) -- (1233.8,654.5) -- (1233.8,681.7) -- (1252.7,681.7);
\draw[tr] (1277.6,673) -- (1252.7,673) -- (1252.7,691.5) -- (1278,691.5);
% Eury
\draw[tr] (1176.3,740) -- (1097,740) -- (1097,947) -- (1102.6,947);
\draw[tr] (1227.4,710) -- (1176.3,710) -- (1176.3,770.9) -- (1180.4,770.9);
\draw[tr] (1196.1,742.1) -- (1180.4,742.1) -- (1180.4,801) -- (1205.3,801);
\draw[tr] (1220,728.5) -- (1196.1,728.5) -- (1196.1,756) -- (1201.6,756);
\draw[tr] (1222.3,747) -- (1201.6,747) -- (1201.6,765.5) -- (1219,765.5);
\draw[tr] (1226,784) -- (1205.3,784) -- (1205.3,834.6) -- (1209.5,834.6);
\draw[tr] (1205.3,802.5) -- (1227.4,802.5);
\draw[tr] (1227.4,821) -- (1209.5,821) -- (1209.5,848.2) -- (1214.5,848.2);
\draw[tr] (1227.4,839.5) -- (1214.5,839.5) -- (1214.5,858) -- (1227.4,858);
\draw[tr] (1281.3,876.5) -- (1102.6,876.5) -- (1102.6,1018) -- (1137.1,1018);
\draw[tr] (1102.6,904) -- (1127.9,904);
\draw[tr] (1279,895) -- (1127.9,895) -- (1127.9,913.5) -- (1244.4,913.5);
\draw[tr] (1181.4,969.1) -- (1137.1,969.1) -- (1137.1,1067.7) -- (1157.9,1067.7);
\draw[tr] (1195.2,940.9) -- (1181.4,940.9) -- (1181.4,996.5) -- (1264.2,996.5);
\draw[tr] (1302,932) -- (1195.2,932) -- (1195.2,950.5) -- (1303.4,950.5);
\draw[tr] (1321.3,977.7) -- (1264.2,977.7) -- (1264.2,1014.8) -- (1311.2,1014.8);
\draw[tr] (1323,969) -- (1321.3,969) -- (1321.3,987.5) -- (1323,987.5);
\draw[tr] (1315.8,1006) -- (1311.2,1006) -- (1311.2,1024.5) -- (1315.8,1024.5);
\draw[tr] (1272,1043) -- (1157.9,1043) -- (1157.9,1092.7) -- (1213.6,1092.7);
\draw[tr] (1266,1070.4) -- (1213.6,1070.4) -- (1213.6,1114.7) -- (1228.3,1114.7);
\draw[tr] (1301,1061.5) -- (1266,1061.5) -- (1266,1080) -- (1295,1080);
\draw[tr] (1296.5,1098.5) -- (1228.3,1098.5) -- (1228.3,1130.8) -- (1237.5,1130.8);
\draw[tr] (1301,1117) -- (1237.5,1117) -- (1237.5,1144.8) -- (1284.5,1144.8);
\draw[tr] (1292.8,1135.5) -- (1284.5,1135.5) -- (1284.5,1154) -- (1292.8,1154);
% dots
\foreach \p in {(1101.7,83.3),(1160.6,75.8),(1185.5,90.2),(1157.9,168),(1175.4,131.2),(1182.3,145.6),(1169.8,204.6),(1221.4,200.4),(1232.9,229),(1180.9,271),(1204.4,279.4),(1212.2,334.8),(1227.4,348.6),(1208.5,390.2),
 (1074,487.5),(1119.2,459.8),(1156.9,496.9),(1174,598.4),(1198.4,556.8),(1265.2,570.8),(1262.9,626.4),(1233.8,668.3),(1252.7,681.7),
 (1097,829.5),(1176.3,740),(1196.1,742.1),(1205.3,801),(1127.9,904),(1137.1,1018),(1181.4,969.1),(1264.2,996.5),(1321.3,977.7),(1311.2,1014.8),(1157.9,1067.7),(1213.6,1092.7),(1266,1070.4),(1284.5,1144.8)}
 \fill \p circle[radius=2.4pt];
\end{tikzpicture}
\end{document}
